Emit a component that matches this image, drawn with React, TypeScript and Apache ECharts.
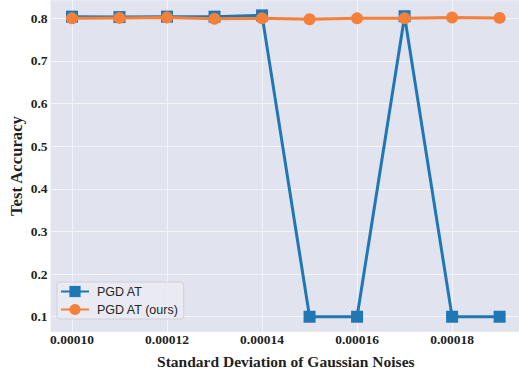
import React, { useEffect, useRef } from "react";
import * as echarts from "echarts";

const noiseStd = [0.0001, 0.00011, 0.00012, 0.00013, 0.00014, 0.00015, 0.00016, 0.00017, 0.00018, 0.00019];
const pgdAt = [0.804, 0.803, 0.804, 0.804, 0.807, 0.1, 0.1, 0.805, 0.1, 0.1];
const pgdAtOurs = [0.8, 0.801, 0.802, 0.799, 0.8, 0.798, 0.8, 0.8, 0.802, 0.801];
const xTicks = [0.0001, 0.00012, 0.00014, 0.00016, 0.00018];
const yTicks = [0.1, 0.2, 0.3, 0.4, 0.5, 0.6, 0.7, 0.8];
const seriesNames = ["PGD AT", "PGD AT (ours)"];

const serif = "'Liberation Serif', 'Times New Roman', serif";
const sans = "'Liberation Sans', Arial, sans-serif";

export default function App() {
  const ref = useRef<HTMLDivElement>(null);
  useEffect(() => {
    document.body.style.margin = "0";
    const chart = echarts.init(ref.current!, null, { renderer: "svg" });
    const xSpan = Math.max(...noiseStd) - Math.min(...noiseStd);
    const xMin = Math.min(...noiseStd) - 0.05 * xSpan;
    const xMax = Math.max(...noiseStd) + 0.05 * xSpan;
    const allY = [...pgdAt, ...pgdAtOurs];
    const ySpan = Math.max(...allY) - Math.min(...allY);
    const yMin = Math.min(...allY) - 0.05 * ySpan;
    const yMax = Math.max(...allY) + 0.05 * ySpan;
    chart.setOption({
      animation: false,
      backgroundColor: "#ffffff",
      grid: {
        left: 50.6,
        right: -2,
        top: 0.3,
        bottom: 38.2,
        show: true,
        containLabel: false,
        outerBoundsMode: "none",
        backgroundColor: "#e1e3ee",
        borderWidth: 0,
      },
      xAxis: {
        type: "value",
        min: xMin,
        max: xMax,
        name: "Standard Deviation of Gaussian Noises",
        nameLocation: "middle",
        nameGap: 22,
        nameTextStyle: { fontFamily: serif, fontWeight: "bold", fontSize: 15.5, color: "#1f1f1f" },
        axisLine: { show: false },
        axisTick: { show: false, customValues: xTicks },
        axisLabel: {
          customValues: xTicks,
          formatter: (v: number) => v.toFixed(5),
          fontFamily: serif,
          fontWeight: "bold",
          fontSize: 13.5,
          color: "#1f1f1f",
          margin: 1,
        },
        splitLine: { show: true, lineStyle: { color: "#f4f5f9", width: 1 } },
      },
      yAxis: {
        type: "value",
        min: yMin,
        max: yMax,
        name: "Test Accuracy",
        nameLocation: "middle",
        nameGap: 26,
        nameMoveOverlap: false,
        nameTextStyle: { fontFamily: serif, fontWeight: "bold", fontSize: 16.7, color: "#1f1f1f" },
        axisLine: { show: false },
        axisTick: { show: false, customValues: yTicks },
        axisLabel: {
          customValues: yTicks,
          formatter: (v: number) => v.toFixed(1),
          fontFamily: serif,
          fontWeight: "bold",
          fontSize: 13.5,
          color: "#1f1f1f",
          margin: 3,
        },
        splitLine: { show: true, lineStyle: { color: "#f4f5f9", width: 1 } },
      },
      legend: {
        orient: "vertical",
        left: 57,
        top: 282,
        padding: [3, 5, 3, 3],
        itemGap: 5,
        itemWidth: 28,
        itemHeight: 14,
        backgroundColor: "rgba(234,235,242,0.85)",
        borderColor: "#cfd0d8",
        borderWidth: 1,
        borderRadius: 3,
        textStyle: { fontFamily: sans, fontSize: 12.5, color: "#262626", padding: [0, 0, 0, 3] },
        data: seriesNames,
      },
      series: [
        {
          name: seriesNames[0],
          type: "line",
          data: noiseStd.map((x, i) => [x, pgdAt[i]]),
          symbol: "rect",
          symbolSize: 12,
          lineStyle: { color: "#1f77b4", width: 3 },
          itemStyle: { color: "#1f77b4" },
          z: 2,
        },
        {
          name: seriesNames[1],
          type: "line",
          data: noiseStd.map((x, i) => [x, pgdAtOurs[i]]),
          symbol: "circle",
          symbolSize: 12,
          lineStyle: { color: "#f5803a", width: 3 },
          itemStyle: { color: "#f5803a" },
          z: 3,
        },
      ],
    });
    return () => chart.dispose();
  }, []);
  return <div ref={ref} style={{ width: 519, height: 370 }} />;
}
